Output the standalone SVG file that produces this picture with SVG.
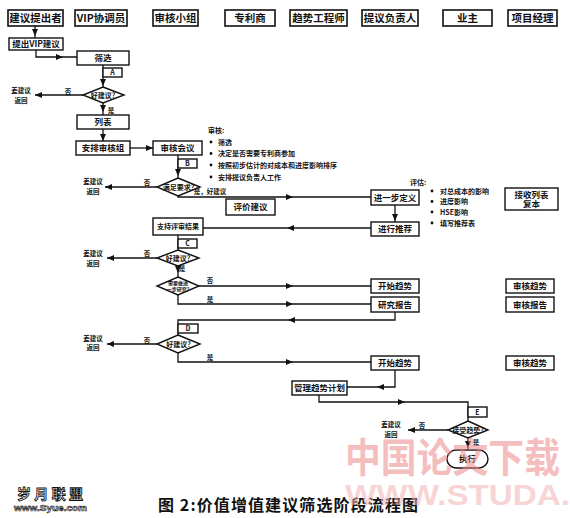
<svg xmlns="http://www.w3.org/2000/svg" xmlns:xlink="http://www.w3.org/1999/xlink" width="570" height="518" viewBox="0 0 570 518">
<style>
text{font-family:"Noto Sans CJK SC","Liberation Serif",serif;font-weight:bold;fill:#111}
.box{fill:#fff;stroke:#111;stroke-width:1.4}
.hb{fill:#fff;stroke:#111;stroke-width:1.6}
.ln{fill:none;stroke:#111;stroke-width:1.3}
.h{font-size:10.5px;text-anchor:middle}
.n{font-size:8.5px;text-anchor:middle}
.sm{font-size:7px;text-anchor:middle}
.lb{font-size:6.5px;text-anchor:middle}
.bl{font-size:7px}
.wm{font-family:"Liberation Sans","Noto Sans CJK SC",sans-serif;font-weight:bold}
</style>
<defs>
<path id="ah" d="M0,0 L-7,-3 L-7,3 Z" fill="#111"/>
</defs>
<rect width="570" height="518" fill="#fff"/>

<!-- header lanes -->
<g id="lane-1"><rect class="hb" x="8" y="10" width="55" height="16"/><text class="h" x="35.5" y="22">建议提出者</text></g>
<g id="lane-2"><rect class="hb" x="75" y="10" width="52" height="16"/><text class="h" x="101" y="22">VIP协调员</text></g>
<g id="lane-3"><rect class="hb" x="153" y="10" width="45" height="16"/><text class="h" x="175.5" y="22">审核小组</text></g>
<g id="lane-4"><rect class="hb" x="225" y="10" width="50" height="16"/><text class="h" x="250" y="22">专利商</text></g>
<g id="lane-5"><rect class="hb" x="290" y="10" width="57" height="16"/><text class="h" x="318.5" y="22">趋势工程师</text></g>
<g id="lane-6"><rect class="hb" x="362" y="10" width="56" height="16"/><text class="h" x="390" y="22">提议负责人</text></g>
<g id="lane-7"><rect class="hb" x="443" y="10" width="49" height="16"/><text class="h" x="467.5" y="22">业主</text></g>
<g id="lane-8"><rect class="hb" x="508" y="10" width="49" height="16"/><text class="h" x="532.5" y="22">项目经理</text></g>

<!-- connectors -->
<g id="connectors">
<path class="ln" d="M35,26 V38"/><use xlink:href="#ah" transform="translate(35,36) rotate(90)"/>
<path class="ln" d="M36,50 V57 H77"/><use xlink:href="#ah" transform="translate(63,57)"/>
<path class="ln" d="M103,65 V87"/><use xlink:href="#ah" transform="translate(103,86) rotate(90)"/>
<path class="ln" d="M83,95 H35"/><use xlink:href="#ah" transform="translate(35,95) rotate(180)"/>
<path class="ln" d="M103,103 V115"/><use xlink:href="#ah" transform="translate(103,112) rotate(90)"/>
<path class="ln" d="M103,129 V141"/><use xlink:href="#ah" transform="translate(103,141) rotate(90)"/>
<path class="ln" d="M130,148 H153"/><use xlink:href="#ah" transform="translate(153,148)"/>
<path class="ln" d="M178,155 V178"/><use xlink:href="#ah" transform="translate(178,176) rotate(90)"/>
<path class="ln" d="M157,187 H105"/><use xlink:href="#ah" transform="translate(105,187) rotate(180)"/>
<path class="ln" d="M178,196 V197 H371"/><use xlink:href="#ah" transform="translate(293,197)"/>
<path class="ln" d="M395,205 V222"/><use xlink:href="#ah" transform="translate(395,221) rotate(90)"/>
<path class="ln" d="M371,228 H203"/><use xlink:href="#ah" transform="translate(287,228) rotate(180)"/>
<path class="ln" d="M178,235 V250"/>
<path class="ln" d="M157,258 H107"/><use xlink:href="#ah" transform="translate(107,258) rotate(180)"/>
<path class="ln" d="M178,266 V277"/><use xlink:href="#ah" transform="translate(178,273) rotate(90)"/>
<path class="ln" d="M199,286 H371"/><use xlink:href="#ah" transform="translate(293,286)"/>
<path class="ln" d="M178,295 V304 H371"/><use xlink:href="#ah" transform="translate(293,304)"/>
<path class="ln" d="M395,312 V320 H178 V335"/><use xlink:href="#ah" transform="translate(288,320) rotate(180)"/>
<path class="ln" d="M157,344 H107"/><use xlink:href="#ah" transform="translate(107,344) rotate(180)"/>
<path class="ln" d="M178,353 V362 H371"/><use xlink:href="#ah" transform="translate(293,362)"/>
<path class="ln" d="M395,370 V387 H347"/><use xlink:href="#ah" transform="translate(377,387) rotate(180)"/>
<path class="ln" d="M319,395 V402 H468 V421"/><use xlink:href="#ah" transform="translate(405,402)"/>
<path class="ln" d="M448,430 H408"/><use xlink:href="#ah" transform="translate(408,430) rotate(180)"/>
<path class="ln" d="M468,438 V450"/><use xlink:href="#ah" transform="translate(468,448) rotate(90)"/>
</g>

<!-- connector labels -->
<g id="labels">
<text class="lb" x="68" y="94">否</text>
<text class="lb" x="111" y="113">是</text>
<text class="lb" x="147" y="185">否</text>
<text class="lb" x="210" y="194">是，好建议</text>
<text class="lb" x="147" y="256">否</text>
<text class="lb" x="182" y="271">是</text>
<text class="lb" x="210" y="283">否</text>
<text class="lb" x="210" y="302">是</text>
<text class="lb" x="147" y="343">否</text>
<text class="lb" x="210" y="360">是</text>
<text class="lb" x="422" y="428">否</text>
<text class="lb" x="476" y="445">是</text>
<text class="lb" x="21" y="92.5">差建议</text><text class="lb" x="21" y="102.5">返回</text>
<text class="lb" x="93" y="184">差建议</text><text class="lb" x="93" y="193.5">返回</text>
<text class="lb" x="93" y="255.5">差建议</text><text class="lb" x="93" y="265.5">返回</text>
<text class="lb" x="93" y="340.5">差建议</text><text class="lb" x="93" y="350">返回</text>
<text class="lb" x="391" y="426.5">差建议</text><text class="lb" x="391" y="436.5">返回</text>
</g>

<!-- nodes -->
<g id="n-propose"><rect class="box" x="9" y="38" width="54" height="12"/><text class="n" x="36" y="47.3">提出VIP建议</text></g>
<g id="n-screen"><rect class="box" x="77" y="51" width="52" height="14"/><text class="n" x="103" y="61">筛选</text></g>
<g id="n-A"><rect class="box" x="103" y="68" width="19" height="9"/><text class="sm" x="112.5" y="75.3">A</text></g>
<g id="d-A"><path class="box" d="M103,87 L124,95 L103,103 L83,95 Z"/><text class="sm" x="103" y="97.5">好建议?</text></g>
<g id="n-list"><rect class="box" x="77" y="115" width="52" height="14"/><text class="n" x="103" y="125">列表</text></g>
<g id="n-arrange"><rect class="box" x="76" y="141" width="54" height="14"/><text class="n" x="103" y="151">安排审核组</text></g>
<g id="n-meeting"><rect class="box" x="153" y="141" width="49" height="14"/><text class="n" x="177.5" y="151">审核会议</text></g>
<g id="review-notes">
<text class="bl" x="208" y="133">审核:</text>
<circle cx="211" cy="142" r="1.4" fill="#111"/><text class="bl" x="218" y="144.5">筛选</text>
<circle cx="211" cy="153.5" r="1.4" fill="#111"/><text class="bl" x="218" y="156">决定是否需要专利商参加</text>
<circle cx="211" cy="165" r="1.4" fill="#111"/><text class="bl" x="218" y="167.5">按照初步估计的对成本和进度影响排序</text>
<circle cx="211" cy="177" r="1.4" fill="#111"/><text class="bl" x="218" y="179.5">安排提议负责人工作</text>
</g>
<g id="n-B"><rect class="box" x="178" y="159" width="19" height="9"/><text class="sm" x="187.5" y="166.3">B</text></g>
<g id="d-B"><path class="box" d="M178,178 L200,187 L178,196 L157,187 Z"/><text class="sm" x="178.5" y="189.5">满足要求?</text></g>
<g id="n-evaluate"><rect class="box" x="226" y="199" width="49" height="16"/><text class="n" x="250.5" y="210">评价建议</text></g>
<g id="n-define"><rect class="box" x="371" y="190" width="48" height="15"/><text class="n" x="395" y="200.5">进一步定义</text></g>
<g id="n-recommend"><rect class="box" x="371" y="222" width="48" height="14"/><text class="n" x="395" y="232">进行推荐</text></g>
<g id="eval-notes">
<text class="bl" x="410" y="184.5">评估:</text>
<circle cx="432" cy="191" r="1.4" fill="#111"/><text class="bl" x="440" y="193.5">对总成本的影响</text>
<circle cx="432" cy="201.5" r="1.4" fill="#111"/><text class="bl" x="440" y="204">进度影响</text>
<circle cx="432" cy="212" r="1.4" fill="#111"/><text class="bl" x="440" y="214.5">HSE影响</text>
<circle cx="432" cy="223" r="1.4" fill="#111"/><text class="bl" x="440" y="225.5">填写推荐表</text>
</g>
<g id="n-receive"><rect class="box" x="505" y="188" width="53" height="22"/><text class="n" x="531.5" y="197.5">接收列表</text><text class="n" x="531.5" y="207">复本</text></g>
<g id="n-support"><rect class="box" x="153" y="218" width="50" height="17"/><text class="sm" x="178" y="229">支持评审结果</text></g>
<g id="n-C"><rect class="box" x="178" y="239" width="19" height="9"/><text class="sm" x="187.5" y="246.3">C</text></g>
<g id="d-C"><path class="box" d="M178,250 L199,258 L178,266 L157,258 Z"/><text class="sm" x="178" y="260.5">好建议?</text></g>
<g id="d-study"><path class="box" d="M178,277 L199,286 L178,295 L157,286 Z"/><text class="lb" x="178" y="285" style="font-size:5px">需要做进</text><text class="lb" x="178" y="290.5" style="font-size:5px">一步研究?</text></g>
<g id="n-start1"><rect class="box" x="371" y="279" width="48" height="14"/><text class="n" x="395" y="289">开始趋势</text></g>
<g id="n-report"><rect class="box" x="371" y="297" width="48" height="15"/><text class="n" x="395" y="307.5">研究报告</text></g>
<g id="n-audit1"><rect class="box" x="506" y="279" width="48" height="14"/><text class="n" x="530" y="289">审核趋势</text></g>
<g id="n-audit2"><rect class="box" x="506" y="297" width="48" height="15"/><text class="n" x="530" y="307.5">审核报告</text></g>
<g id="n-D"><rect class="box" x="178" y="324" width="20" height="9"/><text class="sm" x="188" y="331.3">D</text></g>
<g id="d-D"><path class="box" d="M178,335 L200,344 L178,353 L157,344 Z"/><text class="sm" x="178.5" y="346.5">好建议?</text></g>
<g id="n-start2"><rect class="box" x="371" y="356" width="48" height="14"/><text class="n" x="395" y="366">开始趋势</text></g>
<g id="n-audit3"><rect class="box" x="506" y="356" width="48" height="14"/><text class="n" x="530" y="366">审核趋势</text></g>
<g id="n-manage"><rect class="box" x="292" y="381" width="55" height="14"/><text class="n" x="319.5" y="391">管理趋势计划</text></g>
<g id="n-E"><rect class="box" x="468" y="407" width="19" height="10"/><text class="sm" x="477.5" y="414.8">E</text></g>
<g id="d-E"><path class="box" d="M468,421 L488,430 L468,438 L448,430 Z"/><text class="sm" x="468" y="432.5">接受趋势?</text></g>
<g id="n-exec"><rect class="box" x="447" y="450" width="41" height="18" rx="9" ry="9"/><text class="n" x="467.5" y="462">执行</text></g>

<!-- title & logo -->
<g id="title"><text x="158" y="511" font-size="16" textLength="260" lengthAdjust="spacing">图 2:价值增值建议筛选阶段流程图</text></g>
<g id="logo">
<text x="17" y="499" font-size="14" style="fill:#fff;stroke:#111;stroke-width:0.9" textLength="66" lengthAdjust="spacing">岁月联盟</text>
<text class="wm" x="14" y="511" font-size="9" style="fill:#fff;stroke:#111;stroke-width:0.6" textLength="73" lengthAdjust="spacingAndGlyphs">www.Syue.com</text>
</g>

<!-- watermark (over the drawing, semi-transparent) -->
<g id="watermark" opacity="0.55">
<text class="wm" x="345" y="472" font-size="40" style="fill:#ee8a8a" textLength="215" lengthAdjust="spacingAndGlyphs">中国论文下载</text>
<text class="wm" x="345" y="505" font-size="30" style="fill:#f2b4b4" textLength="225" lengthAdjust="spacingAndGlyphs">WWW.STUDA.</text>
</g>
</svg>
